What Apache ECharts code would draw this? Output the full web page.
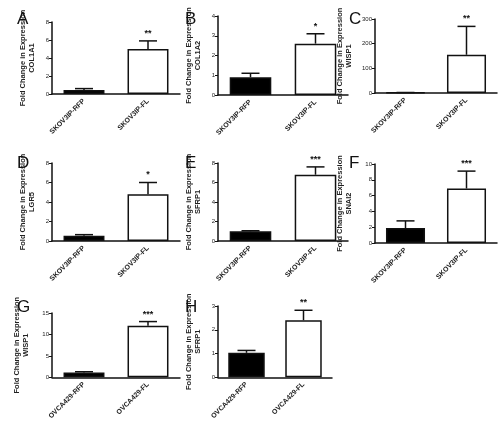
<!DOCTYPE html>
<html>
<head>
<meta charset="utf-8">
<script src="https://cdn.jsdelivr.net/npm/echarts@6/dist/echarts.min.js"></script>
<style>
  html, body { margin: 0; padding: 0; background: #fff; }
  #chart { width: 500px; height: 422px; }
</style>
</head>
<body>
<div id="chart"></div>
<script>
// panel data
const letters = ["A", "B", "C", "D", "E", "F", "G", "H"];
const genes = ["COL1A1", "COL1A2", "WISP1", "LGR5", "SFRP1", "SNAI2", "WISP1", "SFRP1"];
const skovCats = ["SKOV3IP-RFP", "SKOV3IP-FL"];
const ovcaCats = ["OVCA429-RFP", "OVCA429-FL"];
const rfpMeans = [0.45, 0.9, 2, 0.55, 1.0, 1.9, 1.1, 1.03];
const rfpErr = [0.15, 0.2, 0, 0.1, 0.05, 0.9, 0.2, 0.1];
const flMeans = [5.0, 2.6, 155, 4.8, 6.8, 6.9, 12, 2.4];
const flErr = [0.9, 0.5, 115, 1.2, 0.8, 2.2, 1.0, 0.42];
const stars = ["**", "*", "**", "*", "***", "***", "***", "**"];
const yMax = [8, 4, 300, 8, 8, 10, 15, 3];
const yStep = [2, 1, 100, 2, 2, 2, 5, 1];

// grid boxes in px: [left, top, width, height]
const boxes = [
  [52, 22, 128, 72], [218, 16, 130, 79], [375, 19, 122, 74],
  [52, 163, 128, 78], [218, 163, 130, 78], [375, 164, 122, 79],
  [52, 313, 128, 67], [218, 306, 114, 73]
];
const letterPos = [[12, 6], [180, 6], [344, 6], [12, 150], [180, 150], [344, 150], [12, 294], [180, 294]];

const chart = echarts.init(document.getElementById("chart"));
const font = "Liberation Sans, Arial, sans-serif";

const grid = [], xAxis = [], yAxis = [], series = [], title = [];
letters.forEach((L, i) => {
  const b = boxes[i];
  const cats = i >= 6 ? ovcaCats : skovCats;
  grid.push({ left: b[0], top: b[1], width: b[2], height: b[3] });
  title.push({ text: L, left: letterPos[i][0], top: letterPos[i][1],
    textStyle: { fontSize: 17, fontWeight: "normal", color: "#111", fontFamily: font } });
  xAxis.push({
    type: "category", gridIndex: i, data: cats,
    axisLine: { lineStyle: { color: "#111", width: 1.5 } },
    axisTick: { show: false },
    axisLabel: { rotate: 45, fontSize: 7, fontWeight: "bold", color: "#222", fontFamily: font, margin: 6 }
  });
  yAxis.push({
    type: "value", gridIndex: i, min: 0, max: yMax[i], interval: yStep[i],
    name: "Fold Change in Expression\n" + genes[i], nameLocation: "middle", nameGap: i === 2 || i === 5 || i === 6 ? 22 : 16,
    nameTextStyle: { fontSize: 7.5, fontWeight: "bold", color: "#222", fontFamily: font, lineHeight: 9 },
    axisLine: { show: true, lineStyle: { color: "#111", width: 1.5 } },
    axisTick: { show: true, length: 3, lineStyle: { color: "#111" } },
    splitLine: { show: false },
    axisLabel: { fontSize: 6, color: "#222", fontFamily: font, margin: 3 }
  });
  series.push({
    type: "bar", xAxisIndex: i, yAxisIndex: i, barWidth: "64%",
    data: [
      { value: rfpMeans[i], itemStyle: { color: "#000" } },
      { value: flMeans[i], itemStyle: { color: "#fff" } }
    ],
    itemStyle: { borderColor: "#111", borderWidth: 1.5 }
  });
  series.push({
    type: "custom", xAxisIndex: i, yAxisIndex: i, z: 1,
    data: [[0, rfpMeans[i], rfpErr[i], ""], [1, flMeans[i], flErr[i], stars[i]]],
    renderItem: (params, api) => {
      const x = api.value(0), m = api.value(1), e = api.value(2);
      const p0 = api.coord([x, m]);
      const p1 = api.coord([x, m + e]);
      const hw = 9;
      const children = [
        { type: "line", shape: { x1: p0[0], y1: p0[1], x2: p1[0], y2: p1[1] }, style: { stroke: "#111", lineWidth: 1.5 } },
        { type: "line", shape: { x1: p1[0] - hw, y1: p1[1], x2: p1[0] + hw, y2: p1[1] }, style: { stroke: "#111", lineWidth: 1.5 } }
      ];
      const s = api.value(3);
      if (s) children.push({ type: "text", x: p1[0], y: p1[1] - 3,
        style: { text: s, fontSize: 9, fontWeight: "bold", fill: "#111", align: "center", verticalAlign: "bottom", fontFamily: font } });
      return { type: "group", children };
    }
  });
});

chart.setOption({ animation: false, title, grid, xAxis, yAxis, series });
</script>
</body>
</html>
